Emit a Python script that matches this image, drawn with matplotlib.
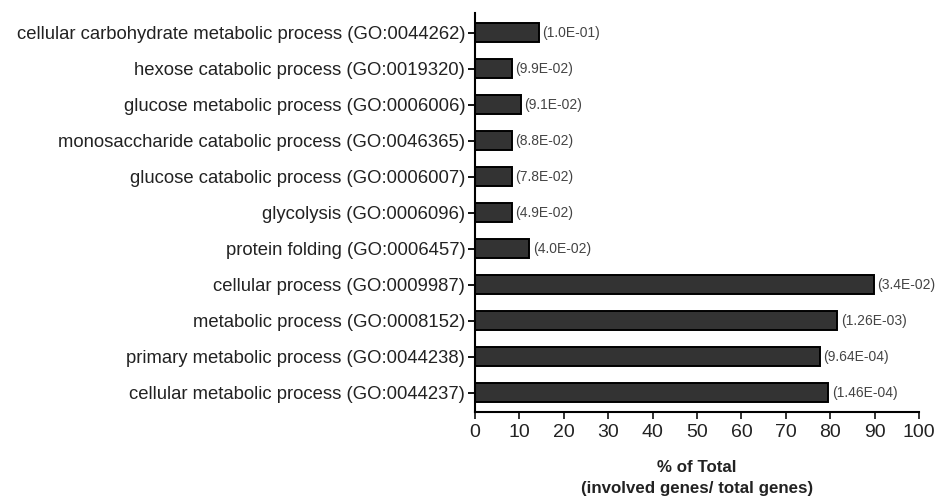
import numpy as np
import matplotlib.pyplot as plt

plt.rcParams['font.family'] = ['Liberation Sans', 'DejaVu Sans']

# terminos GO, de arriba hacia abajo
terminos = [
    "cellular carbohydrate metabolic process (GO:0044262)",
    "hexose catabolic process (GO:0019320)",
    "glucose metabolic process (GO:0006006)",
    "monosaccharide catabolic process (GO:0046365)",
    "glucose catabolic process (GO:0006007)",
    "glycolysis (GO:0006096)",
    "protein folding (GO:0006457)",
    "cellular process (GO:0009987)",
    "metabolic process (GO:0008152)",
    "primary metabolic process (GO:0044238)",
    "cellular metabolic process (GO:0044237)",
]
porcentaje = [14.4, 8.3, 10.3, 8.3, 8.3, 8.3, 12.2, 89.9, 81.6, 77.6, 79.6]
pvalores = ["(1.0E-01)", "(9.9E-02)", "(9.1E-02)", "(8.8E-02)", "(7.8E-02)",
            "(4.9E-02)", "(4.0E-02)", "(3.4E-02)", "(1.26E-03)", "(9.64E-04)",
            "(1.46E-04)"]

fig = plt.figure(figsize=(9.38, 4.97), dpi=100)
ax = fig.add_axes([0.5064, 0.171, 0.4733, 0.803])

y = np.arange(len(terminos))[::-1]
ax.barh(y, porcentaje, height=0.52, color='#333333', edgecolor='black', linewidth=1.4)

for yi, v, p in zip(y, porcentaje, pvalores):
    ax.annotate(p, (v, yi), xytext=(2.5, 0), textcoords='offset points',
                va='center', ha='left', fontsize=10, color='#444444')

ax.set_yticks(y)
ax.set_yticklabels(terminos, fontsize=13.3, color='#222222')
ax.set_xlim(0, 100)
ax.set_ylim(-0.54, 10.55)
ax.set_xticks(np.arange(0, 101, 10))
ax.tick_params(axis='x', labelsize=14, colors='#222222', length=5, width=1.3, direction='out')
ax.tick_params(axis='y', length=5, width=1.3, direction='out', pad=2)

for s in ['top', 'right']:
    ax.spines[s].set_visible(False)
for s in ['left', 'bottom']:
    ax.spines[s].set_linewidth(1.5)

ax.set_xlabel("% of Total\n(involved genes/ total genes)", fontsize=12.2,
              fontweight='bold', color='#222222', labelpad=14, linespacing=1.5)

plt.savefig('out.png', dpi=100)
